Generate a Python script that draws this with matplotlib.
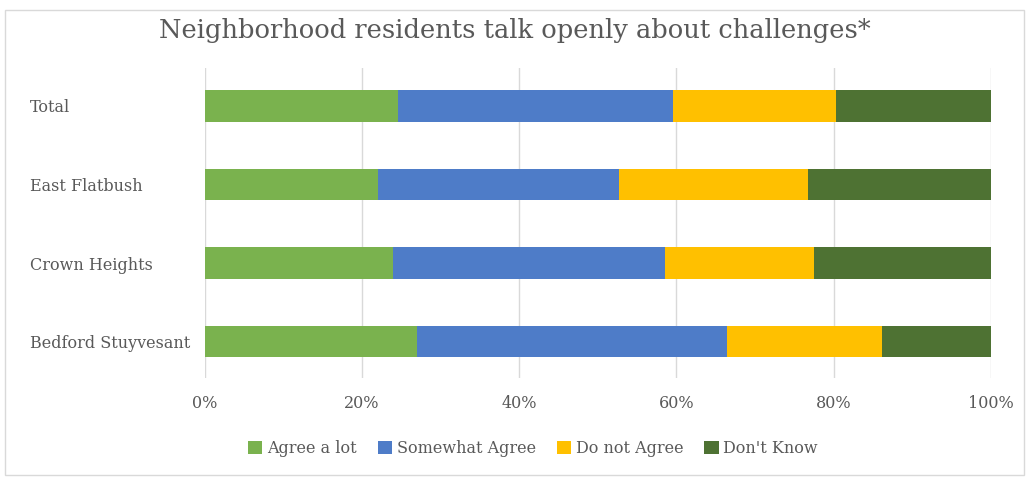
import matplotlib
matplotlib.use('Agg')
import matplotlib.pyplot as plt
import matplotlib.patches as mpatches
import numpy as np

categories = ['Total', 'East Flatbush', 'Crown Heights', 'Bedford Stuyvesant']
series = ['Agree a lot', 'Somewhat Agree', 'Do not Agree', "Don't Know"]
agree_lot = [24.5, 22.0, 23.9, 27.0]
somewhat = [35.1, 30.7, 34.7, 39.4]
not_agree = [20.7, 24.0, 18.9, 19.8]
dont_know = [19.7, 23.3, 22.5, 13.8]
colors = ['#7AB24E', '#4E7CC8', '#FFC000', '#4E7233']

plt.rcParams['font.family'] = ['DejaVu Serif']
txt = '#595959'

fig = plt.figure(figsize=(10.29, 4.79), dpi=100)
ax = fig.add_axes([0.1992, 0.211, 0.7637, 0.647])

y = np.arange(len(categories))
left = np.zeros(len(categories))
for vals, name, c in zip([agree_lot, somewhat, not_agree, dont_know], series, colors):
    ax.barh(y, vals, left=left, height=0.4, color=c, label=name, zorder=3)
    left = left + np.array(vals)

ax.set_xlim(0, 100)
ax.set_ylim(3.46, -0.48)
ax.set_yticks(y)
ax.set_yticklabels(categories, fontsize=11.5, color=txt)
ax.set_xticks(np.arange(0, 101, 20))
ax.set_xticklabels([f'{v}%' for v in range(0, 101, 20)], fontsize=11.5, color=txt)
ax.tick_params(axis='both', length=0)
for lab in ax.get_yticklabels():
    lab.set_horizontalalignment('left')
ax.tick_params(axis='y', pad=126)
ax.tick_params(axis='x', pad=12)
ax.grid(axis='x', color='#D9D9D9', linewidth=1, zorder=0)
for s in ax.spines.values():
    s.set_visible(False)

fig.suptitle('Neighborhood residents talk openly about challenges*', y=0.962,
             fontsize=18.5, color=txt)

leg = fig.legend(loc='center', bbox_to_anchor=(0.518, 0.063), ncol=4, frameon=False,
                 fontsize=11.5, handlelength=0.9, handleheight=0.9, handletextpad=0.3,
                 columnspacing=1.3, labelcolor=txt)

fig.patches.append(mpatches.Rectangle((0.005, 0.008), 0.99, 0.972, transform=fig.transFigure,
                                      fill=False, edgecolor='#D9D9D9', linewidth=1))

fig.savefig('out.png', dpi=100)
